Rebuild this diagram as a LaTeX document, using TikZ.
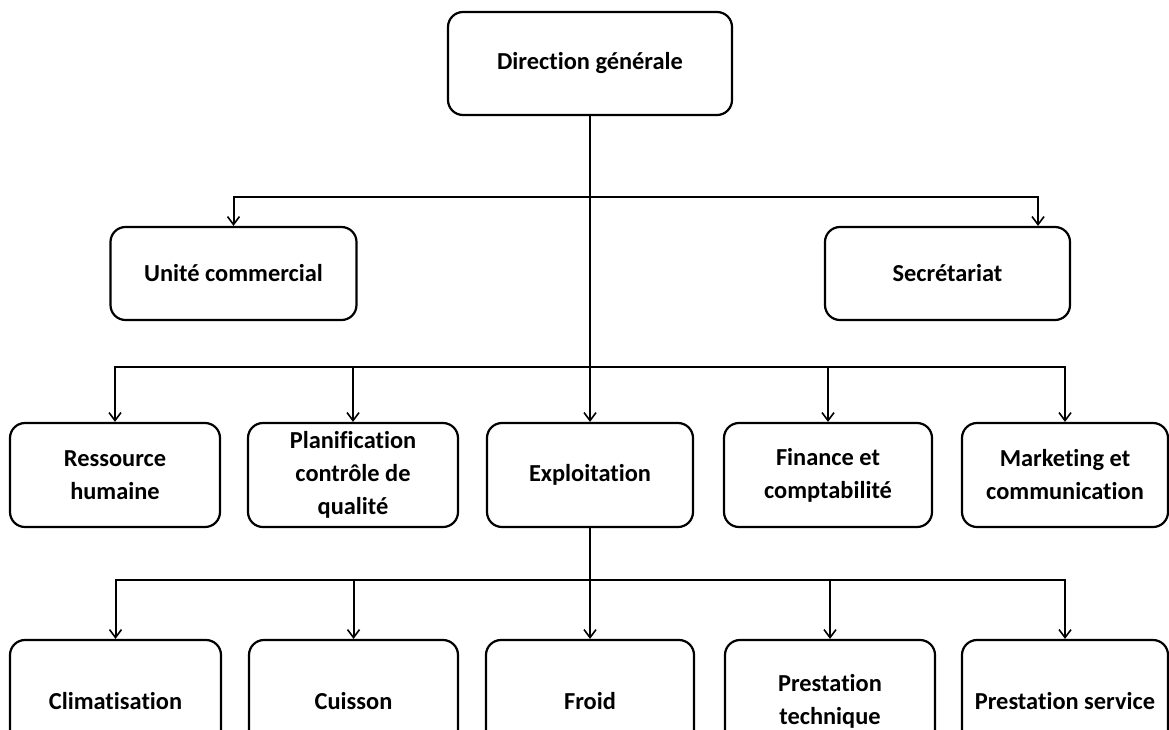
\documentclass[tikz,border=0pt]{standalone}
\usepackage{fontspec}
\setmainfont{Carlito}[Ligatures=NoCommon]
\usetikzlibrary{arrows.meta}
\begin{document}
\begin{tikzpicture}[x=1pt,y=-1pt,
  box/.style={draw=black, line width=2.2pt, rounded corners=15pt, fill=white, align=center,
    inner sep=0pt, font=\fontsize{24.4}{33}\selectfont\bfseries},
  arr/.style={draw=black, line width=2pt, -{Straight Barb[length=8pt,width=12pt,line width=1.6pt]}}]
\useasboundingbox (0,0) rectangle (1169,729);
\clip (0,0) rectangle (1169,729);
% top
\node[box, minimum width=284pt, minimum height=103pt] (dg) at (590,63.5) {Direction générale};
% row 1
\node[box, minimum width=246pt, minimum height=93pt] (uc) at (233.5,273.5) {Unité commercial};
\node[box, minimum width=245pt, minimum height=93pt] (sec) at (947.5,273.5) {Secrétariat};
% row 2
\node[box, minimum width=210pt, minimum height=104pt] (rh) at (115,475) {Ressource\\humaine};
\node[box, minimum width=210pt, minimum height=104pt] (pcq) at (353,475) {Planification\\contrôle de\\qualité};
\node[box, minimum width=206pt, minimum height=104pt] (ex) at (590,475) {Exploitation};
\node[box, minimum width=208pt, minimum height=104pt] (fc) at (828,475) {Finance et\\comptabilité};
\node[box, minimum width=206pt, minimum height=104pt] (mc) at (1065,475) {Marketing et\\communication};
% row 3
\node[box, minimum width=211pt, minimum height=122pt] (cl) at (115.5,701) {Climatisation};
\node[box, minimum width=209pt, minimum height=122pt] (cu) at (353.5,701) {Cuisson};
\node[box, minimum width=208pt, minimum height=122pt] (fr) at (590,701) {Froid};
\node[box, minimum width=210pt, minimum height=122pt] (pt) at (830,701) {Prestation\\technique};
\node[box, minimum width=206pt, minimum height=122pt] (ps) at (1065,701) {Prestation service};
% junctions
\coordinate (j1) at (590,197);
\coordinate (j2) at (590,367);
\coordinate (j3) at (590,580);
% connectors
\draw[arr] (dg.south) -- (ex.north);
\draw[arr] (j1) -| (uc.north);
\draw[arr] (j1) -| ([xshift=90.5pt]sec.north);
\draw[arr] (j2) -| (rh.north);
\draw[arr] (j2) -| (pcq.north);
\draw[arr] (j2) -| (fc.north);
\draw[arr] (j2) -| (mc.north);
\draw[arr] (ex.south) -- (fr.north);
\draw[arr] (j3) -| (cl.north);
\draw[arr] (j3) -| (cu.north);
\draw[arr] (j3) -| (pt.north);
\draw[arr] (j3) -| (ps.north);
\end{tikzpicture}
\end{document}
